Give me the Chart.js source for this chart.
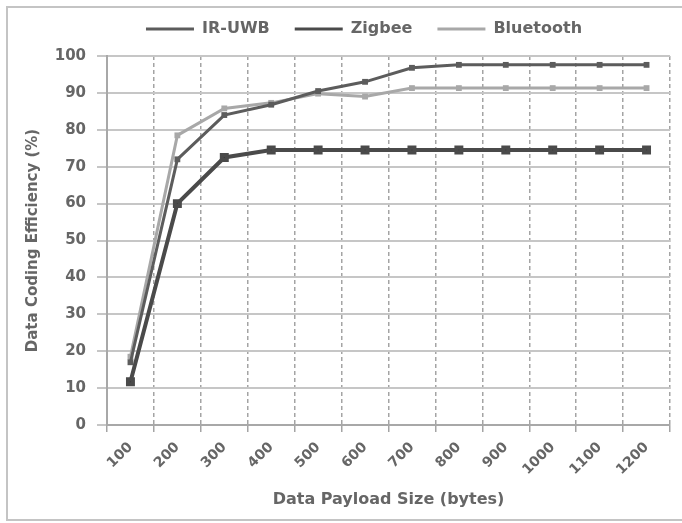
<!DOCTYPE html>
<html>
<head>
<meta charset="utf-8">
<script src="https://cdn.jsdelivr.net/npm/chart.js@4/dist/chart.umd.min.js"></script>
<style>
  html, body { margin: 0; padding: 0; background: #fff; }
  #wrap { position: relative; width: 682px; height: 523px; overflow: hidden; }
  #frame { position: absolute; left: 6px; top: 6px; width: 700px; height: 515px; border: 2px solid #c4c4c4; box-sizing: border-box; }
  canvas { position: absolute; left: 0; top: 0; }
</style>
</head>
<body>
<div id="wrap">
  <div id="frame"></div>
  <canvas id="c" width="682" height="523"></canvas>
</div>
<script>
const categories = ['100','200','300','400','500','600','700','800','900','1000','1100','1200'];
const irUwb     = [17, 72, 84, 86.8, 90.5, 93, 96.8, 97.6, 97.6, 97.6, 97.6, 97.6];
const zigbee    = [11.7, 60, 72.5, 74.5, 74.5, 74.5, 74.5, 74.5, 74.5, 74.5, 74.5, 74.5];
const bluetooth = [18.5, 78.5, 85.8, 87.3, 89.8, 89, 91.3, 91.3, 91.3, 91.3, 91.3, 91.3];
const yTicks    = [0, 10, 20, 30, 40, 50, 60, 70, 80, 90, 100];

const FONT = 'DejaVu Sans';
const TXT = '#666666';

const legendTweak = {
  id: 'legendTweak',
  beforeInit(chart) {
    const orig = chart.legend.fit;
    chart.legend.fit = function () { orig.call(this); this.height = 50; };
  },
  afterLayout(chart) {
    const lg = chart.legend;
    lg.left += 24; lg.right += 24;
    lg.top -= 10; lg.bottom -= 10;
  }
};

new Chart(document.getElementById('c'), {
  type: 'line',
  data: {
    labels: categories,
    datasets: [
      { label: 'IR-UWB', data: irUwb, borderColor: '#5c5c5c', backgroundColor: '#5c5c5c',
        borderWidth: 3, pointStyle: 'rect', pointRadius: 2, tension: 0 },
      { label: 'Zigbee', data: zigbee, borderColor: '#4a4a4a', backgroundColor: '#3a3a3a',
        borderWidth: 4, pointStyle: 'rect', pointRadius: 3.5, tension: 0 },
      { label: 'Bluetooth', data: bluetooth, borderColor: '#a8a8a8', backgroundColor: '#a8a8a8',
        borderWidth: 3, pointStyle: 'rect', pointRadius: 2, tension: 0 }
    ]
  },
  options: {
    responsive: false,
    animation: false,
    layout: { padding: { left: 10, right: 12, top: 6, bottom: 12 } },
    plugins: {
      legend: {
        position: 'top',
        labels: {
          font: { family: FONT, size: 16, weight: 'bold' }, color: TXT,
          boxWidth: 48, boxHeight: 3, padding: 25,
          generateLabels(chart) {
            const items = Chart.defaults.plugins.legend.labels.generateLabels(chart);
            items.forEach(it => { it.lineWidth = 0; it.fillStyle = it.strokeStyle; });
            return items;
          }
        }
      },
      tooltip: { enabled: false }
    },
    scales: {
      x: {
        offset: true,
        grid: { offset: true, color: '#a4a4a4', lineWidth: 1.5, tickLength: 7 },
        border: { color: '#a8a8a8', width: 2, dash: [4, 3] },
        ticks: { font: { family: FONT, size: 14, weight: 'bold' }, color: TXT, minRotation: 45, maxRotation: 45, padding: 7 },
        title: { display: true, text: 'Data Payload Size (bytes)', font: { family: FONT, size: 16, weight: 'bold' },
                 color: TXT, padding: { top: 4, bottom: 2 } },
        afterFit(s) { s.height = 86; }
      },
      y: {
        min: 0, max: 100,
        afterBuildTicks(s) { s.ticks = yTicks.map(v => ({ value: v })); },
        grid: { color: '#c6c6c6', lineWidth: 2, tickLength: 10 },
        border: { color: '#a8a8a8', width: 2 },
        ticks: { font: { family: FONT, size: 15, weight: 'bold' }, color: TXT, padding: 11 },
        title: { display: true, text: 'Data Coding Efficiency (%)', font: { family: FONT, size: 15, weight: 'bold' },
                 color: TXT, padding: { top: 14, bottom: 4 } },
        afterFit(s) { s.width = 97; }
      }
    }
  },
  plugins: [legendTweak]
});
</script>
</body>
</html>
